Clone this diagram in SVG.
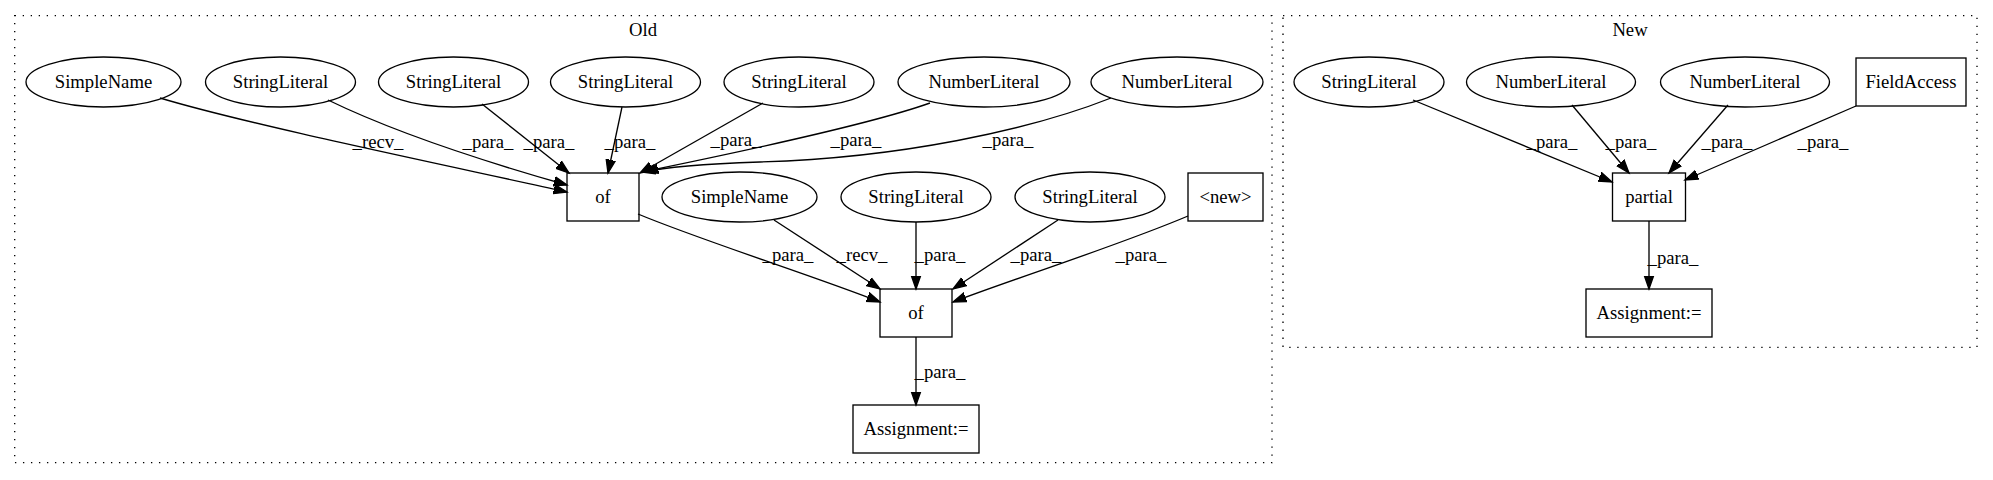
<svg xmlns="http://www.w3.org/2000/svg" width="1993" height="480" viewBox="0 0 1993 480" font-family="'Liberation Serif', 'Times New Roman', Times, 'DejaVu Serif', serif">
<style>
text{font-family:'Liberation Serif','Times New Roman',Times,'DejaVu Serif',serif;font-size:18.67px;fill:#000;text-anchor:middle}
.n ellipse,.n rect{fill:none;stroke:#000;stroke-width:1.33}
.cl{fill:none;stroke:#000;stroke-width:1.33;stroke-dasharray:1.33,6.67}
.e path{fill:none;stroke:#000;stroke-width:1.33;marker-end:url(#ah)}
</style>
<defs>
<marker id="ah" markerUnits="userSpaceOnUse" markerWidth="16" markerHeight="12" viewBox="0 -6 16 12" refX="13.33" refY="0" orient="auto">
<path d="M0,-4.67 L13.33,0 L0,4.67 z" fill="#000" stroke="#000" stroke-width="1.33"/>
</marker>
</defs>
<rect width="1993" height="480" fill="#fff"/>
<g id="cluster_old">
<rect class="cl" x="14.7" y="15.7" width="1257.3" height="447"/>
<text x="643" y="36">Old</text>
</g>
<g id="cluster_new">
<rect class="cl" x="1283" y="15.7" width="694" height="331.6"/>
<text x="1630" y="36">New</text>
</g>
<g id="edges" class="e">
<path d="M160,98 C250,125 450,166 567,192"/>
<path d="M328,100 C400,135 500,166 567,185"/>
<path d="M482,104 L569,173"/>
<path d="M622,107 L608,173"/>
<path d="M763,103 L640,173"/>
<path d="M930,103 C860,128 700,160 642,172"/>
<path d="M1111,98 C1030,130 900,158 760,162 C700,164 665,167 645,172"/>
<path d="M638,214 C700,240 820,278 880,302"/>
<path d="M774,220 L880,289"/>
<path d="M916,222 L916,289"/>
<path d="M1058,220 L953,289"/>
<path d="M1188,216 C1120,245 1010,280 953,302"/>
<path d="M916,337 L916,405"/>
<path d="M1413,100 L1612,182"/>
<path d="M1572,105 L1629,173"/>
<path d="M1728,105 L1669,173"/>
<path d="M1856,106 L1685,180"/>
<path d="M1649,221 L1649,289"/>
<text x="378" y="148">_recv_</text>
<text x="488" y="148">_para_</text>
<text x="549" y="148">_para_</text>
<text x="630" y="148">_para_</text>
<text x="736" y="146">_para_</text>
<text x="856" y="146">_para_</text>
<text x="1008" y="146">_para_</text>
<text x="788" y="261">_para_</text>
<text x="862" y="261">_recv_</text>
<text x="940" y="261">_para_</text>
<text x="1036" y="261">_para_</text>
<text x="1141" y="261">_para_</text>
<text x="940" y="378">_para_</text>
<text x="1552" y="148">_para_</text>
<text x="1631" y="148">_para_</text>
<text x="1727" y="148">_para_</text>
<text x="1823" y="148">_para_</text>
<text x="1673" y="264">_para_</text>
</g>
<g id="old_simplename1" class="n"><ellipse cx="103.5" cy="82" rx="77.5" ry="25"/><text x="103.5" y="88">SimpleName</text></g>
<g id="old_string1" class="n"><ellipse cx="280.5" cy="82" rx="75" ry="25"/><text x="280.5" y="88">StringLiteral</text></g>
<g id="old_string2" class="n"><ellipse cx="453.5" cy="82" rx="75" ry="25"/><text x="453.5" y="88">StringLiteral</text></g>
<g id="old_string3" class="n"><ellipse cx="625.5" cy="82" rx="75" ry="25"/><text x="625.5" y="88">StringLiteral</text></g>
<g id="old_string4" class="n"><ellipse cx="799" cy="82" rx="75" ry="25"/><text x="799" y="88">StringLiteral</text></g>
<g id="old_number1" class="n"><ellipse cx="984" cy="82" rx="86" ry="25"/><text x="984" y="88">NumberLiteral</text></g>
<g id="old_number2" class="n"><ellipse cx="1177" cy="82" rx="86" ry="25"/><text x="1177" y="88">NumberLiteral</text></g>
<g id="old_of1" class="n"><rect x="567" y="173" width="72" height="48"/><text x="603" y="203">of</text></g>
<g id="old_simplename2" class="n"><ellipse cx="739.5" cy="197" rx="77.5" ry="25"/><text x="739.5" y="203">SimpleName</text></g>
<g id="old_string5" class="n"><ellipse cx="916" cy="197" rx="75" ry="25"/><text x="916" y="203">StringLiteral</text></g>
<g id="old_string6" class="n"><ellipse cx="1090" cy="197" rx="75" ry="25"/><text x="1090" y="203">StringLiteral</text></g>
<g id="old_new" class="n"><rect x="1188" y="173" width="75" height="48"/><text x="1225.5" y="203">&lt;new&gt;</text></g>
<g id="old_of2" class="n"><rect x="880" y="289" width="72" height="48"/><text x="916" y="319">of</text></g>
<g id="old_assign" class="n"><rect x="853" y="405" width="126" height="48"/><text x="916" y="435">Assignment:=</text></g>
<g id="new_string" class="n"><ellipse cx="1369" cy="82" rx="75" ry="25"/><text x="1369" y="88">StringLiteral</text></g>
<g id="new_number1" class="n"><ellipse cx="1551" cy="82" rx="84.5" ry="25"/><text x="1551" y="88">NumberLiteral</text></g>
<g id="new_number2" class="n"><ellipse cx="1745" cy="82" rx="84.5" ry="25"/><text x="1745" y="88">NumberLiteral</text></g>
<g id="new_fieldaccess" class="n"><rect x="1856" y="58" width="110" height="48"/><text x="1911" y="88">FieldAccess</text></g>
<g id="new_partial" class="n"><rect x="1612.5" y="173" width="73" height="48"/><text x="1649" y="203">partial</text></g>
<g id="new_assign" class="n"><rect x="1586" y="289" width="126" height="48"/><text x="1649" y="319">Assignment:=</text></g>
</svg>
